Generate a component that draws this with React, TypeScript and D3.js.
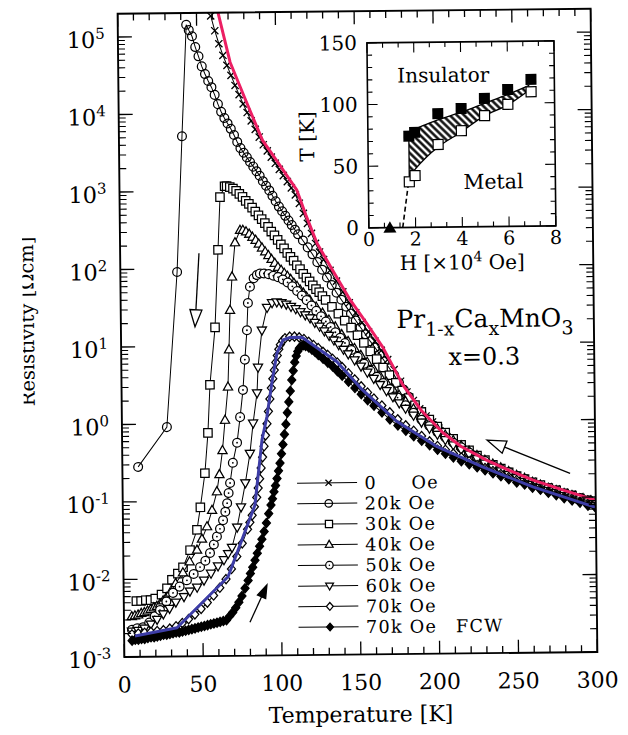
import React from "react";
import * as d3 from "d3";

type Pt = [number, number]; // [temperature K, resistivity Ω cm]

// Pr(1-x)Ca(x)MnO3, x = 0.3 : resistivity vs temperature at several fields
const rho0Oe: Pt[] = [
  [59, 1.82e5], [61.5, 1.17e5], [64, 7.94e4], [66.5, 5.62e4], [69, 4.17e4], [71.5, 3.09e4], [74, 2.29e4],
  [76.5, 1.74e4], [79, 1.32e4], [81.5, 1.02e4], [84, 7940], [86.5, 6170], [89, 4900], [91.5, 3890], [94, 3240],
  [96.5, 2690], [99, 2240], [101.5, 1860], [104, 1550], [106.5, 1290], [109, 1070], [111.5, 871], [114, 676],
  [116.5, 501], [119, 372], [121.5, 275], [124, 204], [126.5, 158], [129, 126], [133, 91.2], [137, 66.1],
  [141, 47.9], [145, 34.7], [149, 25.7], [153, 19.1], [157, 14.5], [161, 11.0], [165, 8.32], [169, 6.31],
  [173, 4.68], [177, 3.31], [181, 2.40], [185, 1.86], [189, 1.45], [193, 1.17], [197, 0.977], [201, 0.813],
  [205, 0.692], [210, 0.562], [215, 0.468], [220, 0.398], [225, 0.347], [230, 0.302], [235, 0.269], [240, 0.24],
  [245, 0.219], [250, 0.195], [255, 0.178], [260, 0.162], [265, 0.148], [270, 0.138], [275, 0.129], [280, 0.117],
  [285, 0.11], [290, 0.102], [295, 0.0955], [300, 0.0891],
];

const rho20kOe: Pt[] = [
  [10, 0.282], [28.5, 0.912], [36, 91.2], [40, 5130], [43.4, 1.41e5], [45, 1.2e5], [47, 1.0e5], [49, 7.24e4],
  [51, 5.5e4], [53, 4.07e4], [55, 3.24e4], [57, 2.63e4], [59, 2.19e4], [61, 1.74e4], [63, 1.32e4], [65, 1.05e4],
  [67, 8710], [69, 7410], [71, 6310], [73, 5250], [75, 4270], [77, 3550], [79, 3090], [81, 2690], [83, 2340],
  [85, 2040], [87, 1780], [89, 1550], [91, 1320], [93, 1150], [95, 1000], [97, 851], [99, 724], [101, 617],
  [103, 537], [105, 468], [107, 407], [109, 355], [111, 309], [113, 269], [116, 224], [119, 182], [122, 148],
  [125, 117], [128, 93.3], [131, 74.1], [134, 58.9], [137, 46.8], [140, 38.0], [143, 30.9], [146, 25.1],
  [149, 20.4], [152, 16.6], [155, 13.5], [158, 11.0], [161, 9.12], [164, 7.41], [167, 6.03], [170, 4.9],
  [173, 3.98], [176, 3.16], [179, 2.57], [182, 2.09], [186, 1.62], [190, 1.29], [194, 1.05], [198, 0.871],
  [202, 0.741], [206, 0.631], [210, 0.537], [215, 0.447], [220, 0.38], [225, 0.331], [230, 0.288], [235, 0.257],
  [240, 0.229], [245, 0.209], [250, 0.186], [255, 0.17], [260, 0.155], [265, 0.141], [270, 0.132], [275, 0.123],
  [280, 0.112], [285, 0.105], [290, 0.0977], [295, 0.0912], [300, 0.0851],
];

const rho30kOe: Pt[] = [
  [8, 5.25e-3], [11, 5.25e-3], [14, 5.37e-3], [17, 5.37e-3], [20, 5.62e-3], [24, 6.31e-3], [27.5, 7.59e-3],
  [30.7, 9.77e-3], [34.5, 0.0117], [37.8, 0.0141], [42.4, 0.0234], [46.9, 0.0427], [49.2, 0.0832], [52.3, 0.229],
  [54.5, 0.759], [56.1, 3.16], [59.7, 17.4], [62.1, 174], [63.7, 832], [66.7, 1150], [68, 1150], [70, 1120],
  [72, 1070], [74, 1000], [76, 912], [78, 832], [80, 741], [82, 676], [84, 603], [86, 537], [88, 479], [90, 427],
  [92, 380], [94, 339], [96, 295], [98, 263], [100, 229], [102, 200], [104, 178], [106, 155], [108, 138],
  [110, 123], [112, 107], [114, 95.5], [116, 83.2], [118, 74.1], [120, 66.1], [122, 58.9], [124, 52.5],
  [126, 47.9], [128, 42.7], [130, 38.0], [134, 30.9], [138, 25.1], [142, 20.4], [146, 16.6], [150, 13.2],
  [154, 10.5], [158, 8.13], [162, 6.46], [166, 5.01], [170, 3.98], [174, 3.16], [178, 2.51], [182, 2.0],
  [186, 1.62], [190, 1.32], [195, 1.05], [200, 0.851], [205, 0.708], [210, 0.589], [215, 0.49], [220, 0.417],
  [225, 0.355], [230, 0.309], [235, 0.269], [240, 0.24], [245, 0.214], [250, 0.191], [255, 0.174], [260, 0.158],
  [265, 0.145], [270, 0.132], [275, 0.123], [280, 0.112], [285, 0.105], [290, 0.0955], [295, 0.0891], [300, 0.0832],
];

const rho40kOe: Pt[] = [
  [5, 3.31e-3], [7, 3.39e-3], [9, 3.47e-3], [11, 3.63e-3], [13, 3.72e-3], [15, 3.89e-3], [17, 4.07e-3],
  [19, 4.27e-3], [21, 4.47e-3], [23, 4.79e-3], [25, 5.25e-3], [27, 5.75e-3], [29.4, 6.61e-3], [33, 8.71e-3],
  [37.7, 0.012], [42, 0.0166], [46.8, 0.0234], [50, 0.0324], [53.3, 0.0468], [56.6, 0.0759], [59.8, 0.132],
  [61.5, 0.219], [63.6, 0.447], [65.4, 1.1], [67.5, 2.95], [68.4, 8.91], [69.3, 28.8], [70.8, 77.6], [72.9, 214],
  [76.2, 309], [78, 309], [80, 295], [82, 275], [84, 251], [86, 229], [88, 204], [90, 182], [92, 162], [94, 145],
  [96, 129], [98, 115], [100, 102], [102, 93.3], [104, 85.1], [106, 77.6], [108, 70.8], [110, 63.1], [112, 57.5],
  [114, 51.3], [116, 46.8], [118, 41.7], [120, 38.0], [124, 30.9], [128, 25.7], [132, 20.9], [136, 17.0],
  [140, 13.5], [144, 11.0], [148, 8.91], [152, 7.24], [156, 5.89], [160, 4.79], [164, 3.89], [168, 3.24],
  [172, 2.63], [176, 2.19], [180, 1.82], [185, 1.45], [190, 1.17], [195, 0.955], [200, 0.794], [205, 0.661],
  [210, 0.562], [215, 0.479], [220, 0.407], [225, 0.355], [230, 0.309], [235, 0.275], [240, 0.245], [245, 0.219],
  [250, 0.195], [255, 0.178], [260, 0.158], [265, 0.145], [270, 0.132], [275, 0.123], [280, 0.112], [285, 0.105],
  [290, 0.0955], [295, 0.0891], [300, 0.0813],
];

const rho50kOe: Pt[] = [
  [5, 2.24e-3], [8.3, 2.34e-3], [12, 2.4e-3], [16, 2.75e-3], [19.5, 3.31e-3], [22.9, 3.98e-3], [27, 5.13e-3],
  [31.3, 6.61e-3], [35.5, 7.94e-3], [40.2, 9.55e-3], [44.5, 0.0115], [48.6, 0.0141], [52, 0.017], [55, 0.0214],
  [57.5, 0.0275], [59.5, 0.0347], [61.5, 0.0437], [63.5, 0.0562], [65, 0.0724], [66.2, 0.0933], [67.2, 0.126],
  [68.2, 0.17], [70.1, 0.309], [72.9, 0.562], [75, 1.2], [77, 2.69], [78.4, 6.61], [79.9, 15.8], [80.7, 35.5],
  [82.1, 57.5], [84.5, 74.1], [86.6, 81.3], [88.5, 85.1], [91, 85.1], [94, 83.2], [97, 79.4], [100, 75.9],
  [103, 70.8], [106, 64.6], [109, 57.5], [112, 50.1], [115, 43.7], [118, 38.0], [121, 32.4], [124, 27.5],
  [127, 23.4], [130, 20.0], [133, 17.0], [136, 14.5], [139, 12.3], [142, 10.5], [146, 8.51], [150, 6.92],
  [154, 5.62], [158, 4.57], [162, 3.8], [166, 3.16], [170, 2.63], [175, 2.04], [180, 1.62], [185, 1.29],
  [190, 1.05], [195, 0.871], [200, 0.724], [205, 0.617], [210, 0.525], [215, 0.457], [220, 0.389], [225, 0.339],
  [230, 0.302], [235, 0.263], [240, 0.234], [245, 0.214], [250, 0.191], [255, 0.174], [260, 0.155], [265, 0.141],
  [270, 0.129], [275, 0.12], [280, 0.11], [285, 0.102], [290, 0.0933], [295, 0.0871], [300, 0.0794],
];

const rho60kOe: Pt[] = [
  [5, 2.14e-3], [9, 2.19e-3], [13, 2.34e-3], [17, 2.63e-3], [21, 3.02e-3], [25, 3.55e-3], [29, 4.17e-3],
  [33, 5.01e-3], [38.2, 5.89e-3], [42, 6.92e-3], [46.6, 7.76e-3], [51, 9.55e-3], [55.5, 0.0117], [60, 0.0145],
  [63.8, 0.0174], [66.5, 0.0209], [69, 0.0251], [72.4, 0.0457], [75, 0.0832], [77.9, 0.17], [81, 0.407],
  [83.2, 1.0], [85.9, 2.45], [86.7, 5.25], [89.4, 15.8], [92.8, 30.9], [96, 35.5], [99, 36.3], [102, 35.5],
  [105, 33.9], [108, 31.6], [111, 29.5], [114, 26.9], [117, 24.5], [120, 22.4], [123, 19.5], [126, 17.4],
  [129, 15.1], [132, 13.2], [135, 11.5], [138, 10.0], [141, 8.71], [144, 7.59], [148, 6.31], [152, 5.25],
  [156, 4.37], [160, 3.63], [164, 3.02], [168, 2.51], [172, 2.09], [176, 1.74], [180, 1.48], [185, 1.2],
  [190, 0.977], [195, 0.813], [200, 0.676], [205, 0.575], [210, 0.49], [215, 0.427], [220, 0.372], [225, 0.324],
  [230, 0.282], [235, 0.251], [240, 0.224], [245, 0.2], [250, 0.182], [255, 0.162], [260, 0.148], [265, 0.135],
  [270, 0.123], [275, 0.115], [280, 0.105], [285, 0.0977], [290, 0.0891], [295, 0.0832], [300, 0.0776],
];

const rho70kOe: Pt[] = [
  [5, 1.95e-3], [9, 2.0e-3], [13, 2.04e-3], [17, 2.09e-3], [21, 2.14e-3], [25, 2.19e-3], [29, 2.29e-3],
  [33, 2.45e-3], [37, 2.69e-3], [41, 3.02e-3], [45, 3.47e-3], [49, 4.07e-3], [53, 4.9e-3], [57, 6.03e-3],
  [61, 7.59e-3], [65, 9.77e-3], [68.5, 0.0132], [72, 0.0191], [75.5, 0.0282], [79, 0.0427], [80.5, 0.0525],
  [82, 0.0646], [83.5, 0.0832], [85, 0.11], [86, 0.145], [87, 0.191], [88, 0.263], [89, 0.363], [90, 0.501],
  [91, 0.692], [92, 0.977], [93, 1.41], [94, 2.04], [95, 2.82], [96, 3.72], [97, 4.79], [98, 6.03], [99, 7.41],
  [100, 8.91], [101, 10.2], [102.5, 11.5], [104, 12.3], [107, 12.9], [110, 12.9], [113, 12.6], [116, 12.0],
  [119, 11.0], [122, 10.0], [125, 9.12], [128, 8.13], [131, 7.41], [134, 6.61], [137, 5.89], [140, 5.13],
  [144, 4.27], [148, 3.55], [152, 2.88], [156, 2.4], [160, 2.0], [165, 1.62], [170, 1.32], [175, 1.07],
  [180, 0.891], [185, 0.759], [190, 0.646], [195, 0.55], [200, 0.479], [205, 0.427], [210, 0.38], [215, 0.339],
  [220, 0.302], [225, 0.269], [230, 0.245], [235, 0.224], [240, 0.204], [245, 0.186], [250, 0.17], [255, 0.155],
  [260, 0.141], [265, 0.132], [270, 0.12], [275, 0.112], [280, 0.102], [285, 0.0955], [290, 0.0871],
  [295, 0.0813], [300, 0.0759],
];

// field-cooled warming run at 70k Oe
const rho70kOeFCW: Pt[] = [
  [5, 1.62e-3], [7, 1.66e-3], [9, 1.66e-3], [11, 1.7e-3], [13, 1.7e-3], [15, 1.74e-3], [17, 1.78e-3],
  [19, 1.78e-3], [21, 1.82e-3], [23, 1.86e-3], [25, 1.91e-3], [27, 1.91e-3], [29, 1.95e-3], [31, 2.0e-3],
  [33, 2.04e-3], [35, 2.04e-3], [37, 2.09e-3], [39, 2.14e-3], [41, 2.19e-3], [43, 2.24e-3], [45, 2.29e-3],
  [47, 2.34e-3], [49, 2.4e-3], [51, 2.45e-3], [53, 2.51e-3], [55, 2.57e-3], [57, 2.63e-3], [59, 2.69e-3],
  [61, 2.75e-3], [63, 2.82e-3], [65, 2.88e-3], [67, 3.24e-3], [69, 3.63e-3], [71, 4.17e-3], [73, 4.9e-3],
  [75, 5.89e-3], [77, 7.41e-3], [79, 9.33e-3], [80.5, 0.0115], [82, 0.0138], [83.5, 0.017], [85, 0.0209],
  [86.5, 0.0257], [88, 0.0316], [89.5, 0.0398], [91, 0.0513], [92.5, 0.0676], [94, 0.0871], [95, 0.105],
  [96, 0.129], [97, 0.155], [98, 0.191], [99, 0.24], [100, 0.302], [101, 0.398], [102, 0.525], [103, 0.708],
  [104, 0.955], [105, 1.35], [106, 1.86], [107, 2.57], [108, 3.55], [109, 4.68], [110, 6.03], [111, 7.24],
  [112, 8.32], [113, 9.12], [114, 9.55], [115.5, 10.0], [117, 9.77], [119, 9.33], [121, 8.71], [123, 8.13],
  [125, 7.41], [128, 6.61], [131, 5.89], [134, 5.25], [137, 4.57], [140, 3.98], [144, 3.31], [148, 2.75],
  [152, 2.29], [156, 1.91], [160, 1.62], [165, 1.32], [170, 1.07], [175, 0.891], [180, 0.759], [185, 0.646],
  [190, 0.562], [195, 0.49], [200, 0.427], [205, 0.38], [210, 0.339], [215, 0.302], [220, 0.275], [225, 0.251],
  [230, 0.229], [235, 0.209], [240, 0.191], [245, 0.174], [250, 0.158], [255, 0.148], [260, 0.135], [265, 0.126],
  [270, 0.115], [275, 0.107], [280, 0.0977], [285, 0.0912], [290, 0.0851], [295, 0.0776], [300, 0.0724],
];

// coloured guide lines drawn over the 0 Oe and 70k Oe curves
const guideZeroField: Pt[] = [
  [63, 2.29e5], [71, 4.57e4], [80, 1.58e4], [91, 4470], [100, 2400], [112.5, 1000], [118, 479], [125, 204],
  [135, 89.1], [145.5, 38.0], [156, 18.6], [166, 9.12], [178.5, 2.95], [190, 1.38], [203.5, 0.708], [215, 0.468],
  [231, 0.309], [245, 0.229], [260, 0.17], [280, 0.123], [300, 0.0912],
];
const guideHighField: Pt[] = [
  [6.9, 1.86e-3], [33.6, 2.34e-3], [66.3, 0.0105], [83.8, 0.0871], [88.8, 0.617], [92, 1.2], [95.4, 3.31],
  [98.8, 7.94], [102.7, 11.7], [107.2, 12.6], [114.8, 12.6], [121.7, 10.0], [136.8, 6.03], [152.5, 2.63],
  [174.5, 1.0], [199.8, 0.468], [228.8, 0.251], [260.3, 0.138], [299.5, 0.0741],
];

// annotation arrows, [T, rho] start and end
const arrowCooling: Pt[] = [[50.0, 158], [47.0, 17.8]];
const arrowWarming: Pt[] = [[79.9, 2.69e-3], [90.9, 8.13e-3]];
const arrowHighT: Pt[] = [[283.9, 0.204], [231.4, 0.562]];

// inset: transition temperature vs field (H in 10^4 Oe, T in K)
const insetField = [1.75, 2, 3, 4, 5, 6, 7];
const insetTcInsulating = [74, 77, 92, 96, 104, 111, 119];
const insetTcMetallic = [37, 42, 67, 78, 90, 99, 109];
const hysteresisField = [1.75, 2, 2.5, 3, 4, 5, 6, 6.9];
const hysteresisUpper = [75, 79, 83.5, 87, 93, 100, 107, 114];
const hysteresisLower = [41, 47, 57, 65, 77, 90, 98.5, 110];
const criticalField = [0.9];
const criticalFieldT = [0];
const boundaryField = [1.45, 1.72];
const boundaryT = [0, 37];

const tempTicks = [0, 50, 100, 150, 200, 250, 300];
const decadeExponents = [-3, -2, -1, 0, 1, 2, 3, 4, 5];
const insetFieldTicks = [0, 2, 4, 6, 8];
const insetTempTicks = [0, 50, 100, 150];

const fieldLabels = ["0", "20k", "30k", "40k", "50k", "60k", "70k", "70k"];
const unitLabel = "Oe";
const fcwLabel = "FCW";

const FONT = "'DejaVu Serif', 'Liberation Serif', serif";
const frame = { left: 121, right: 594, top: 11.2, bottom: 654.5 };
const inset = { left: 370, right: 557, top: 43, bottom: 228 };

const x = d3.scaleLinear().domain([0, 300]).range([frame.left, frame.right]);
const y = d3.scaleLog().domain([1e-3, 2e5]).range([frame.bottom, frame.top]);
const ix = d3.scaleLinear().domain([0, 8]).range([inset.left, inset.right]);
const iy = d3.scaleLinear().domain([0, 150]).range([inset.bottom, inset.top]);

type Kind = "cross" | "ring" | "square" | "triUp" | "dotRing" | "triDown" | "diamond" | "diamondFilled";

const series: { kind: Kind; data: Pt[] }[] = [
  { kind: "cross", data: rho0Oe },
  { kind: "ring", data: rho20kOe },
  { kind: "square", data: rho30kOe },
  { kind: "triUp", data: rho40kOe },
  { kind: "dotRing", data: rho50kOe },
  { kind: "triDown", data: rho60kOe },
  { kind: "diamond", data: rho70kOe },
  { kind: "diamondFilled", data: rho70kOeFCW },
];

function Marker({ kind, cx, cy, s = 1 }: { kind: Kind; cx: number; cy: number; s?: number }) {
  const sw = 1.25;
  switch (kind) {
    case "cross": {
      const r = 3.6 * s;
      return (
        <path
          d={`M${cx - r},${cy - r}L${cx + r},${cy + r}M${cx - r},${cy + r}L${cx + r},${cy - r}`}
          stroke="#000"
          strokeWidth={1.3}
        />
      );
    }
    case "ring":
      return <circle cx={cx} cy={cy} r={4.4 * s} fill="none" stroke="#000" strokeWidth={sw} />;
    case "dotRing":
      return (
        <g>
          <circle cx={cx} cy={cy} r={4.4 * s} fill="#fff" stroke="#000" strokeWidth={sw} />
          <circle cx={cx} cy={cy} r={0.9 * s} fill="#000" />
        </g>
      );
    case "square": {
      const h = 4.2 * s;
      return <rect x={cx - h} y={cy - h} width={2 * h} height={2 * h} fill="#fff" stroke="#000" strokeWidth={sw} />;
    }
    case "triUp": {
      const h = 5 * s;
      return (
        <path
          d={`M${cx},${cy - h}L${cx + h * 0.92},${cy + h * 0.62}L${cx - h * 0.92},${cy + h * 0.62}Z`}
          fill="#fff"
          stroke="#000"
          strokeWidth={sw}
        />
      );
    }
    case "triDown": {
      const h = 5 * s;
      return (
        <path
          d={`M${cx},${cy + h}L${cx + h * 0.92},${cy - h * 0.62}L${cx - h * 0.92},${cy - h * 0.62}Z`}
          fill="#fff"
          stroke="#000"
          strokeWidth={sw}
        />
      );
    }
    case "diamond":
    case "diamondFilled": {
      const w = 4 * s;
      const h = 4.6 * s;
      return (
        <path
          d={`M${cx},${cy - h}L${cx + w},${cy}L${cx},${cy + h}L${cx - w},${cy}Z`}
          fill={kind === "diamond" ? "#fff" : "#000"}
          stroke="#000"
          strokeWidth={sw}
        />
      );
    }
  }
  return null;
}

function Arrow({ pts, filled, len, half }: { pts: Pt[]; filled: boolean; len: number; half: number }) {
  const x1 = x(pts[0][0]);
  const y1 = y(pts[0][1]);
  const x2 = x(pts[1][0]);
  const y2 = y(pts[1][1]);
  const d = Math.hypot(x2 - x1, y2 - y1);
  const ux = (x2 - x1) / d;
  const uy = (y2 - y1) / d;
  const bx = x2 - ux * len;
  const by = y2 - uy * len;
  const head = `${x2},${y2} ${bx - uy * half},${by + ux * half} ${bx + uy * half},${by - ux * half}`;
  return (
    <g>
      <line x1={x1} y1={y1} x2={bx} y2={by} stroke="#000" strokeWidth={1.3} />
      <polygon points={head} fill={filled ? "#000" : "#fff"} stroke="#000" strokeWidth={1.3} strokeLinejoin="miter" />
    </g>
  );
}

export default function App() {
  const line = d3
    .line<Pt>()
    .x((d) => x(d[0]))
    .y((d) => y(d[1]));

  const xMinor = d3.range(0, 301, 10);
  const yMinor: number[] = [];
  for (let e = -3; e < 5; e++) for (let k = 2; k <= 9; k++) yMinor.push(k * Math.pow(10, e));

  const insetXTicks = d3.range(0, 8.001, 2 / 3);
  const insetYTicks = d3.range(0, 151, 10);

  const band = d3
    .area<number>()
    .x((i) => ix(hysteresisField[i]))
    .y0((i) => iy(hysteresisLower[i]))
    .y1((i) => iy(hysteresisUpper[i]))
    .curve(d3.curveMonotoneX);
  const bandIdx = hysteresisField.map((_, i) => i);

  const legendTop = 482.5;
  const legendStep = 20.6;
  const legendFont = 17.7;

  return (
    <svg
      width={628}
      height={735}
      viewBox="0 0 628 735"
      style={{ position: "absolute", left: 0, top: 0, background: "#fff" }}
      fontFamily={FONT}
    >
      <defs>
        <clipPath id="plot-clip">
          <rect x={frame.left} y={frame.top} width={frame.right - frame.left} height={frame.bottom - frame.top} />
        </clipPath>
        <clipPath id="ylabel-clip">
          <rect x={23} y={0} width={80} height={735} />
        </clipPath>
        <pattern id="hatch" width={5} height={5} patternUnits="userSpaceOnUse" patternTransform="rotate(45)">
          <rect width={5} height={5} fill="#fff" />
          <line x1={0} y1={2.5} x2={5} y2={2.5} stroke="#000" strokeWidth={2.4} />
        </pattern>
      </defs>
      <rect width={628} height={735} fill="#fff" />
      <g transform="rotate(-0.6 357 335)">
        {/* data */}
        <g clipPath="url(#plot-clip)">
          {series.map((s, i) => (
            <g key={i}>
              <path d={line(s.data) || ""} fill="none" stroke="#000" strokeWidth={1} />
              {s.data.map((d, j) => (
                <Marker key={j} kind={s.kind} cx={x(d[0])} cy={y(d[1])} />
              ))}
            </g>
          ))}
          <path d={line(guideHighField) || ""} fill="none" stroke="#3d3da6" strokeWidth={3} strokeLinejoin="round" />
          <path d={line(guideZeroField) || ""} fill="none" stroke="#ec1f63" strokeWidth={3} strokeLinejoin="round" />
        </g>

        {/* frame and ticks */}
        <rect
          x={frame.left}
          y={frame.top}
          width={frame.right - frame.left}
          height={frame.bottom - frame.top}
          fill="none"
          stroke="#000"
          strokeWidth={1.9}
        />
        {xMinor.map((t) => {
          const len = t % 50 === 0 ? 13 : 7;
          return (
            <g key={`xt${t}`} stroke="#000" strokeWidth={1.3}>
              <line x1={x(t)} x2={x(t)} y1={frame.bottom} y2={frame.bottom - len} />
              <line x1={x(t)} x2={x(t)} y1={frame.top} y2={frame.top + len} />
            </g>
          );
        })}
        {decadeExponents.map((e) => {
          const v = y(Math.pow(10, e));
          return (
            <g key={`yM${e}`} stroke="#000" strokeWidth={1.3}>
              <line x1={frame.left} x2={frame.left + 14} y1={v} y2={v} />
              <line x1={frame.right} x2={frame.right - 14} y1={v} y2={v} />
            </g>
          );
        })}
        {yMinor.map((m, i) => {
          const v = y(m);
          return (
            <g key={`ym${i}`} stroke="#000" strokeWidth={1.1}>
              <line x1={frame.left} x2={frame.left + 7} y1={v} y2={v} />
              <line x1={frame.right} x2={frame.right - 7} y1={v} y2={v} />
            </g>
          );
        })}

        {/* tick labels */}
        {decadeExponents.map((e) => (
          <text key={`yl${e}`} x={108} y={y(Math.pow(10, e)) + 10.5} textAnchor="end" fontSize={22.5} fill="#000">
            10
            <tspan dy={-9} fontSize={15}>
              {String(e)}
            </tspan>
          </text>
        ))}
        {tempTicks.map((t) => (
          <text key={`xl${t}`} x={x(t)} y={690} textAnchor="middle" fontSize={22} fill="#000">
            {t}
          </text>
        ))}
        <text x={357} y={722} textAnchor="middle" fontSize={22} fill="#000">
          Temperature [K]
        </text>
        <g clipPath="url(#ylabel-clip)">
          <text transform="translate(34 318) rotate(-90)" textAnchor="middle" fontSize={19.5} fill="#000">
            Resistivity [Ωcm]
          </text>
        </g>

        {/* compound label */}
        <text x={485} y={328.4} textAnchor="middle" fontSize={25} fill="#000">
          Pr
          <tspan fontSize={19} dy={8}>
            1-x
          </tspan>
          <tspan dy={-8}>Ca</tspan>
          <tspan fontSize={19} dy={8}>
            x
          </tspan>
          <tspan dy={-8}>MnO</tspan>
          <tspan fontSize={19} dy={8}>
            3
          </tspan>
        </text>
        <text x={484} y={366} textAnchor="middle" fontSize={24} fill="#000">
          x=0.3
        </text>

        {/* arrows */}
        <Arrow pts={arrowCooling} filled={false} len={17} half={6} />
        <Arrow pts={arrowWarming} filled={true} len={13} half={4.5} />
        <Arrow pts={arrowHighT} filled={false} len={19} half={6.5} />

        {/* legend */}
        {series.map((s, i) => {
          const cy = legendTop + i * legendStep;
          const text = i === 0 ? fieldLabels[i] : `${fieldLabels[i]} ${unitLabel}`;
          return (
            <g key={`lg${i}`}>
              <line x1={295.5} x2={355.5} y1={cy} y2={cy} stroke="#000" strokeWidth={1} />
              <Marker kind={s.kind} cx={327} cy={cy} s={0.85} />
              <text x={363} y={cy + 6.5} fontSize={legendFont} letterSpacing={1.2} fill="#000">
                {text}
              </text>
              {i === 0 && (
                <text x={410} y={cy + 6.5} fontSize={legendFont} letterSpacing={1.2} fill="#000">
                  {unitLabel}
                </text>
              )}
              {i === series.length - 1 && (
                <text x={453} y={cy + 6.5} fontSize={legendFont} letterSpacing={1.2} fill="#000">
                  {fcwLabel}
                </text>
              )}
            </g>
          );
        })}

        {/* inset phase diagram */}
        <rect
          x={inset.left}
          y={inset.top}
          width={inset.right - inset.left}
          height={inset.bottom - inset.top}
          fill="#fff"
        />
        <path d={band(bandIdx) || ""} fill="url(#hatch)" stroke="#000" strokeWidth={1.3} />
        <path
          d={`M${ix(boundaryField[0])},${iy(boundaryT[0])}L${ix(boundaryField[1])},${iy(boundaryT[1])}`}
          stroke="#000"
          strokeWidth={1.6}
          strokeDasharray="5,3"
        />
        {insetField.map((h, i) => (
          <rect
            key={`op${i}`}
            x={ix(h) - 5}
            y={iy(insetTcMetallic[i]) - 5}
            width={10}
            height={10}
            fill="#fff"
            stroke="#000"
            strokeWidth={1.2}
          />
        ))}
        {insetField.map((h, i) => (
          <rect
            key={`fl${i}`}
            x={ix(h) - 5.5}
            y={iy(insetTcInsulating[i]) - 5.5}
            width={11}
            height={11}
            fill="#000"
          />
        ))}
        {criticalField.map((h, i) => {
          const cx = ix(h);
          const cy = iy(criticalFieldT[i]);
          return (
            <path key={`cf${i}`} d={`M${cx},${cy - 6.5}L${cx + 6.5},${cy + 5}L${cx - 6.5},${cy + 5}Z`} fill="#000" />
          );
        })}
        <rect
          x={inset.left}
          y={inset.top}
          width={inset.right - inset.left}
          height={inset.bottom - inset.top}
          fill="none"
          stroke="#000"
          strokeWidth={1.6}
        />
        {insetXTicks.map((v, i) => {
          const major = Math.abs(v / 2 - Math.round(v / 2)) < 1e-6;
          const len = major ? 10 : 5;
          return (
            <g key={`ixt${i}`} stroke="#000" strokeWidth={1.1}>
              <line x1={ix(v)} x2={ix(v)} y1={inset.bottom} y2={inset.bottom - len} />
              <line x1={ix(v)} x2={ix(v)} y1={inset.top} y2={inset.top + len} />
            </g>
          );
        })}
        {insetYTicks.map((v) => {
          const len = v % 50 === 0 ? 10 : 5;
          return (
            <g key={`iyt${v}`} stroke="#000" strokeWidth={1.1}>
              <line x1={inset.left} x2={inset.left + len} y1={iy(v)} y2={iy(v)} />
              <line x1={inset.right} x2={inset.right - len} y1={iy(v)} y2={iy(v)} />
            </g>
          );
        })}
        {insetFieldTicks.map((v) => (
          <text key={`ixl${v}`} x={ix(v)} y={246} textAnchor="middle" fontSize={19} fill="#000">
            {v}
          </text>
        ))}
        {insetTempTicks.map((v) => (
          <text key={`iyl${v}`} x={360} y={iy(v) + 7} textAnchor="end" fontSize={20} fill="#000">
            {v}
          </text>
        ))}
        <text x={463} y={270.5} textAnchor="middle" fontSize={20} fill="#000">
          H [×10
          <tspan dy={-8} fontSize={14}>
            4
          </tspan>
          <tspan dy={8}>{" Oe]"}</tspan>
        </text>
        <text transform="translate(316 136) rotate(-90)" textAnchor="middle" fontSize={20} fill="#000">
          T [K]
        </text>
        <text x={400} y={83} fontSize={20} fill="#000">
          Insulator
        </text>
        <text x={465} y={190} fontSize={20.5} fill="#000">
          Metal
        </text>
      </g>
    </svg>
  );
}
